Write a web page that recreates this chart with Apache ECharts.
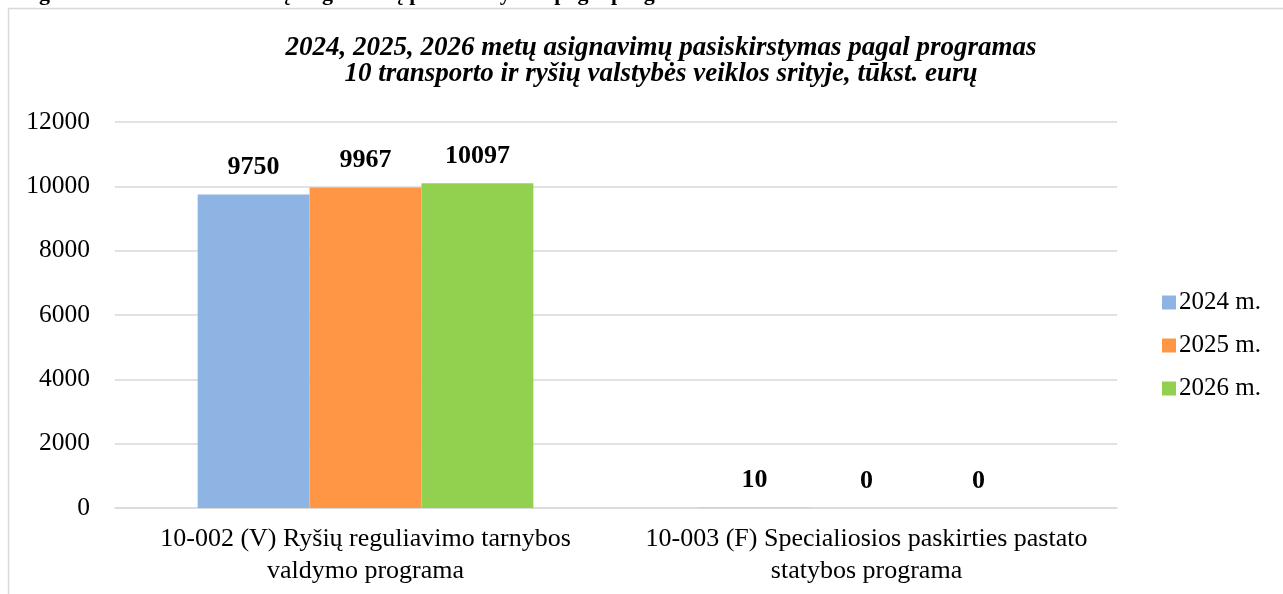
<!DOCTYPE html>
<html>
<head>
<meta charset="utf-8">
<script src="https://cdn.jsdelivr.net/npm/echarts@6/dist/echarts.min.js"></script>
<style>
  html, body { margin: 0; padding: 0; background: #fff; }
  #chart { width: 1283px; height: 594px; }
</style>
</head>
<body>
<div id="chart"></div>
<script>
// duomenys
const programs = [
  '10-002 (V) Ryšių reguliavimo tarnybos\nvaldymo programa',
  '10-003 (F) Specialiosios paskirties pastato\nstatybos programa'
];
const years = ['2024 m.', '2025 m.', '2026 m.'];
const values2024 = [9750, 10];
const values2025 = [9967, 0];
const values2026 = [10097, 0];
const colors = ['#8EB4E3', '#FF9646', '#92D050'];

const serif = '"Liberation Serif", "DejaVu Serif", serif';

const chart = echarts.init(document.getElementById('chart'));

const makeSeries = (name, data, color) => ({
  name,
  type: 'bar',
  data,
  barGap: '0%',
  barCategoryGap: '33%',
  itemStyle: { color },
  label: {
    show: true,
    position: 'top',
    distance: 14,
    fontFamily: serif,
    fontWeight: 'bold',
    fontSize: 26,
    color: '#000'
  }
});

chart.setOption({
  backgroundColor: '#fff',
  animation: false,
  title: {
    text: '2024, 2025, 2026 metų asignavimų pasiskirstymas pagal programas\n10 transporto ir ryšių valstybės veiklos srityje, tūkst. eurų',
    left: 656,
    top: 30,
    textAlign: 'center',
    textStyle: {
      fontFamily: serif,
      fontStyle: 'italic',
      fontWeight: 'bold',
      fontSize: 27,
      lineHeight: 26,
      color: '#000'
    }
  },
  graphic: [
    {
      type: 'rect',
      shape: { x: 8.5, y: 8.5, width: 1400, height: 700 },
      style: { fill: 'none', stroke: '#d9d9d9', lineWidth: 1.5 },
      silent: true
    },
    {
      type: 'text',
      left: 6,
      top: -17,
      style: {
        text: 'Diagrama 10. 2024–2026 metų asignavimų pasiskirstymas pagal programas',
        fontFamily: serif,
        fontWeight: 'bold',
        fontSize: 22,
        fill: '#000'
      },
      silent: true
    }
  ],
  legend: {
    orient: 'vertical',
    left: 1157,
    top: 285,
    itemWidth: 14,
    itemHeight: 14,
    itemGap: 18,
    icon: 'rect',
    data: years,
    textStyle: { fontFamily: serif, fontSize: 25, color: '#000', padding: [0, 0, 0, -2] }
  },
  grid: { left: 115, right: 166, top: 122, bottom: 86 },
  xAxis: {
    type: 'category',
    data: programs,
    axisLine: { show: true, lineStyle: { color: '#d9d9d9', width: 1.5 } },
    axisTick: { show: false },
    axisLabel: {
      fontFamily: serif,
      fontSize: 26,
      lineHeight: 32,
      color: '#000',
      margin: 15,
      interval: 0
    }
  },
  yAxis: {
    type: 'value',
    min: 0,
    max: 12000,
    interval: 2000,
    axisLine: { show: false },
    axisTick: { show: false },
    splitLine: { lineStyle: { color: '#d9d9d9', width: 1.5 } },
    axisLabel: {
      fontFamily: serif,
      fontSize: 25.5,
      color: '#000',
      margin: 25,
      formatter: (v) => String(v)
    }
  },
  series: [
    makeSeries(years[0], values2024, colors[0]),
    makeSeries(years[1], values2025, colors[1]),
    makeSeries(years[2], values2026, colors[2])
  ]
});
</script>
</body>
</html>
